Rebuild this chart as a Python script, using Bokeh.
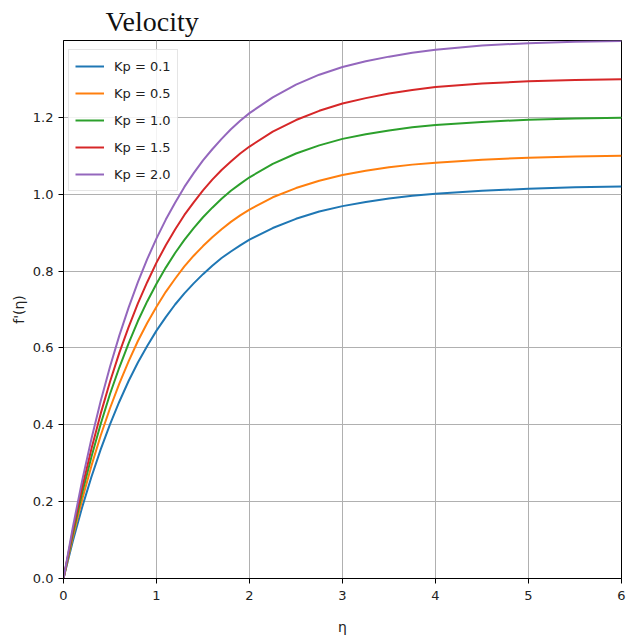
from bokeh.plotting import figure
from bokeh.models import Range1d, FixedTicker, Legend, LegendItem
from bokeh.embed import file_html
from bokeh.resources import INLINE

# ---- data ----
eta = [0.0, 0.1, 0.2, 0.3, 0.4, 0.5, 0.6, 0.7, 0.8, 0.9, 1.0,
       1.1, 1.2, 1.3, 1.4, 1.5, 1.6, 1.7, 1.8, 1.9, 2.0,
       2.25, 2.5, 2.75, 3.0, 3.25, 3.5, 3.75, 4.0,
       4.5, 5.0, 5.5, 6.0]

kp_01 = [0.0, 0.097, 0.185, 0.264, 0.336, 0.401, 0.460, 0.514, 0.562, 0.605, 0.645,
         0.680, 0.713, 0.742, 0.768, 0.792, 0.814, 0.834, 0.851, 0.867, 0.882,
         0.912, 0.936, 0.955, 0.969, 0.980, 0.989, 0.996, 1.001,
         1.009, 1.014, 1.018, 1.020]
kp_05 = [0.0, 0.108, 0.205, 0.293, 0.372, 0.443, 0.507, 0.565, 0.618, 0.665, 0.707,
         0.746, 0.780, 0.812, 0.840, 0.865, 0.888, 0.909, 0.928, 0.945, 0.960,
         0.992, 1.016, 1.035, 1.050, 1.061, 1.070, 1.077, 1.082,
         1.090, 1.095, 1.098, 1.100]
kp_10 = [0.0, 0.116, 0.222, 0.316, 0.402, 0.480, 0.549, 0.612, 0.670, 0.721, 0.767,
         0.809, 0.847, 0.881, 0.912, 0.940, 0.965, 0.988, 1.009, 1.027, 1.044,
         1.079, 1.106, 1.127, 1.144, 1.156, 1.166, 1.174, 1.180,
         1.188, 1.194, 1.197, 1.199]
kp_15 = [0.0, 0.124, 0.236, 0.337, 0.429, 0.512, 0.587, 0.654, 0.716, 0.771, 0.822,
         0.867, 0.908, 0.946, 0.979, 1.010, 1.038, 1.063, 1.085, 1.106, 1.124,
         1.163, 1.193, 1.217, 1.236, 1.250, 1.262, 1.271, 1.279,
         1.288, 1.294, 1.297, 1.299]
kp_20 = [0.0, 0.133, 0.254, 0.363, 0.462, 0.551, 0.632, 0.705, 0.771, 0.831, 0.885,
         0.934, 0.978, 1.019, 1.055, 1.088, 1.117, 1.144, 1.169, 1.191, 1.211,
         1.252, 1.285, 1.311, 1.331, 1.346, 1.358, 1.368, 1.376,
         1.387, 1.393, 1.397, 1.399]

series_labels = ["Kp = 0.1", "Kp = 0.5", "Kp = 1.0", "Kp = 1.5", "Kp = 2.0"]
series_values = [kp_01, kp_05, kp_10, kp_15, kp_20]
colors = ["#1f77b4", "#ff7f0e", "#2ca02c", "#d62728", "#9467bd"]

x_ticks = [0, 1, 2, 3, 4, 5, 6]
x_tick_labels = ["0", "1", "2", "3", "4", "5", "6"]
y_ticks = [0.0, 0.2, 0.4, 0.6, 0.8, 1.0, 1.2]
y_tick_labels = ["0.0", "0.2", "0.4", "0.6", "0.8", "1.0", "1.2"]

title_text = "Velocity"
x_label = "η"
y_label = "f'(η)"

# ---- figure ----
p = figure(width=629, height=639, output_backend="svg", toolbar_location=None,
           x_range=Range1d(0, 6), y_range=Range1d(0, 1.4),
           min_border_left=63, min_border_right=8, min_border_top=40, min_border_bottom=61)

p.title.text = title_text
p.title.text_font = "Liberation Serif"
p.title.text_font_size = "28px"
p.title.text_font_style = "normal"
p.title.text_color = "#111111"
p.title.align = "left"
p.title.offset = 42
p.title.standoff = 7

p.background_fill_color = "white"
p.border_fill_color = "white"
p.outline_line_color = "black"
p.outline_line_width = 1
p.outline_line_alpha = 1

items = []
for lab, vals, c in zip(series_labels, series_values, colors):
    r = p.line(eta, vals, line_color=c, line_width=2)
    items.append(LegendItem(label=lab, renderers=[r]))

legend = Legend(items=items, location=(5, 387))
legend.label_text_font = "DejaVu Sans"
legend.label_text_font_size = "13px"
legend.label_text_color = "#222222"
legend.glyph_width = 29
legend.glyph_height = 20
legend.label_height = 20
legend.label_standoff = 10
legend.spacing = 7
legend.padding = 6
legend.margin = 0
legend.border_line_color = "#cccccc"
legend.border_line_width = 1
legend.background_fill_color = "white"
legend.background_fill_alpha = 0.85
p.add_layout(legend)

for ax in (p.xaxis[0], p.yaxis[0]):
    ax.axis_line_color = "black"
    ax.major_tick_line_color = "black"
    ax.major_tick_out = 5
    ax.major_tick_in = 0
    ax.minor_tick_line_color = None
    ax.major_label_text_font = "DejaVu Sans"
    ax.major_label_text_font_size = "13px"
    ax.major_label_text_color = "#222222"
    ax.major_label_standoff = 5
    ax.axis_label_text_font = "DejaVu Sans"
    ax.axis_label_text_font_size = "14px"
    ax.axis_label_text_font_style = "normal"
    ax.axis_label_text_color = "#222222"

p.xaxis[0].ticker = FixedTicker(ticks=x_ticks)
p.xaxis[0].major_label_overrides = {t: l for t, l in zip(x_ticks, x_tick_labels)}
p.xaxis[0].axis_label = x_label
p.xaxis[0].major_label_standoff = 7
p.xaxis[0].axis_label_standoff = 16

p.yaxis[0].ticker = FixedTicker(ticks=y_ticks)
p.yaxis[0].major_label_overrides = {t: l for t, l in zip(y_ticks, y_tick_labels)}
p.yaxis[0].axis_label = y_label
p.yaxis[0].axis_label_standoff = 3

p.xgrid.ticker = FixedTicker(ticks=x_ticks)
p.ygrid.ticker = FixedTicker(ticks=y_ticks)
for g in (p.xgrid[0], p.ygrid[0]):
    g.grid_line_color = "#b0b0b0"
    g.grid_line_width = 1
    g.grid_line_alpha = 1

open("out.html", "w").write(file_html(p, INLINE))
